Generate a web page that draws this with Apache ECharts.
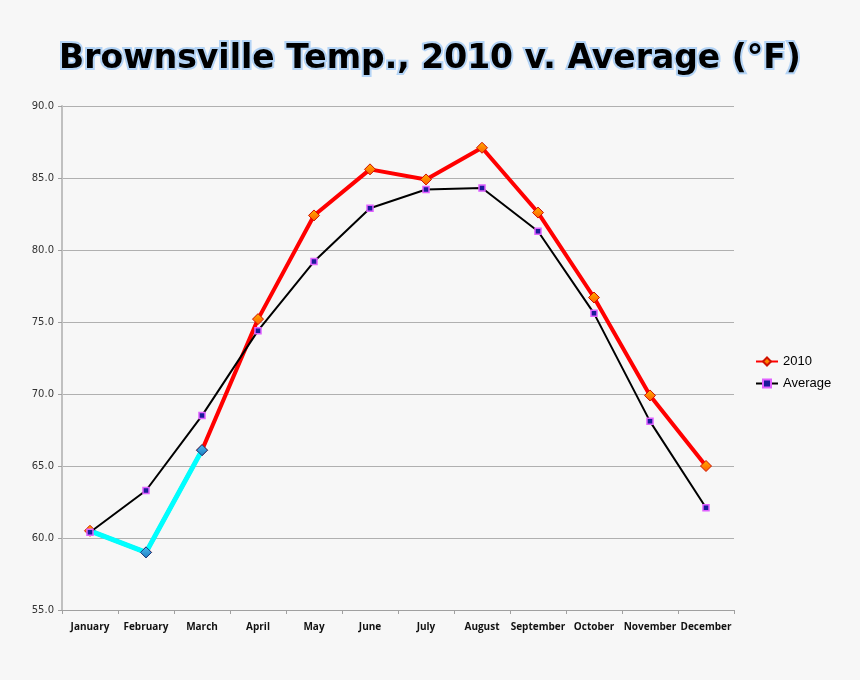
<!DOCTYPE html>
<html>
<head>
<meta charset="utf-8">
<script src="https://cdn.jsdelivr.net/npm/echarts@6/dist/echarts.min.js"></script>
<style>
html,body{margin:0;padding:0;background:#f7f7f7;}
#c{width:860px;height:680px;}
</style>
</head>
<body>
<div id="c"></div>
<script>
const categories = ['January','February','March','April','May','June','July','August','September','October','November','December'];
const temps2010 = [60.5, 59.0, 66.1, 75.2, 82.4, 85.6, 84.9, 87.1, 82.6, 76.7, 69.9, 65.0];
const tempsAverage = [60.4, 63.3, 68.5, 74.4, 79.2, 82.9, 84.2, 84.3, 81.3, 75.6, 68.1, 62.1];
const belowAvgMonths = ['January','February','March'];

const belowData = categories.map((c, i) => {
  if (!belowAvgMonths.includes(c)) return '-';
  return i === 0 ? { value: temps2010[i], symbol: 'none' } : temps2010[i];
});

const chart = echarts.init(document.getElementById('c'));
chart.setOption({
  backgroundColor: '#f7f7f7',
  animation: false,
  title: {
    text: 'Brownsville Temp., 2010 v. Average (°F)',
    left: 'center',
    top: 38,
    textStyle: {
      fontFamily: 'DejaVu Sans',
      fontSize: 33,
      fontWeight: 'bold',
      color: '#000',
      textBorderColor: '#b4d4f6',
      textBorderWidth: 4
    }
  },
  legend: {
    orient: 'vertical',
    left: 750,
    top: 350,
    itemWidth: 22,
    itemHeight: 10,
    itemGap: 9,
    data: ['2010', 'Average'],
    textStyle: { fontFamily: 'Liberation Sans', fontSize: 13, color: '#000' }
  },
  grid: { left: 62, right: 126, top: 106, bottom: 70 },
  xAxis: {
    type: 'category',
    data: categories,
    boundaryGap: true,
    axisLine: { lineStyle: { color: '#a0a0a0', width: 1 } },
    axisTick: { show: true, length: 4, lineStyle: { color: '#a0a0a0' } },
    axisLabel: { fontFamily: 'Open Sans', fontSize: 10, fontWeight: 'bold', color: '#111', margin: 12, interval: 0 }
  },
  yAxis: {
    type: 'value',
    min: 55,
    max: 90,
    interval: 5,
    axisLine: { show: true, lineStyle: { color: '#c0c0c0', width: 2 } },
    axisTick: { show: true, length: 4, lineStyle: { color: '#a0a0a0' } },
    splitLine: { lineStyle: { color: '#b0b0b0', width: 1 } },
    axisLabel: { fontFamily: 'DejaVu Sans', fontSize: 10, color: '#333', margin: 8,
      formatter: v => v.toFixed(1) }
  },
  series: [
    {
      name: '2010',
      type: 'line',
      data: temps2010,
      z: 2,
      symbol: 'diamond',
      symbolSize: 11,
      lineStyle: { color: '#ff0000', width: 4 },
      itemStyle: {
        color: new echarts.graphic.LinearGradient(0, 0, 0, 1, [
          { offset: 0, color: '#ffb000' },
          { offset: 1, color: '#ff5a00' }
        ]),
        borderColor: '#d01000',
        borderWidth: 1
      }
    },
    {
      name: '2010 below average',
      type: 'line',
      data: belowData,
      z: 3,
      symbol: 'diamond',
      symbolSize: 11,
      lineStyle: { color: '#00ffff', width: 5 },
      itemStyle: {
        color: new echarts.graphic.LinearGradient(0, 0, 0, 1, [
          { offset: 0, color: '#50b8f0' },
          { offset: 1, color: '#1a7fc0' }
        ]),
        borderColor: '#1a3a80',
        borderWidth: 1
      }
    },
    {
      name: 'Average',
      type: 'line',
      data: tempsAverage,
      z: 4,
      symbol: 'rect',
      symbolSize: 6,
      lineStyle: { color: '#000', width: 2 },
      itemStyle: { color: '#1a1a9a', borderColor: '#e060ff', borderWidth: 1.5 }
    }
  ]
});
</script>
</body>
</html>
